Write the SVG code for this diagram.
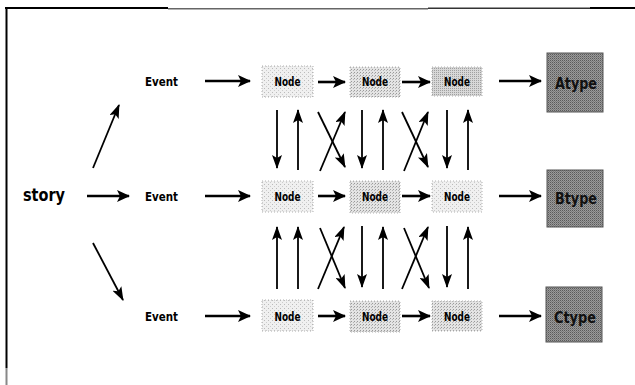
<svg xmlns="http://www.w3.org/2000/svg" width="635" height="385" viewBox="0 0 635 385">
  <style>
    .lbl { font-family: "DejaVu Sans Condensed", "DejaVu Sans", sans-serif; font-weight: bold; fill: #000; }
    .ev { font-size: 13px; }
    .nd { font-size: 12px; }
    .ty { font-size: 16px; fill: #111; }
    .st { font-size: 17px; }
    .node { stroke: #b0b0b0; stroke-width: 1; stroke-dasharray: 1 2; }
    .type { fill: url(#dark); stroke: #555; stroke-width: 1; }
    .h { stroke: #000; stroke-width: 2.6; fill: none; marker-end: url(#hHead); }
    .v { stroke: #000; stroke-width: 1.8; fill: none; marker-end: url(#vHead); }
  </style>
  <defs>
    <marker id="hHead" markerUnits="userSpaceOnUse" markerWidth="14" markerHeight="12" refX="12" refY="6" orient="auto">
      <path d="M0,0 L13,6 L0,12 L3,6 z" fill="#000"/>
    </marker>
    <marker id="vHead" markerUnits="userSpaceOnUse" markerWidth="14" markerHeight="10" refX="13" refY="5" orient="auto">
      <path d="M0,0 L14,5 L0,10 L3,5 z" fill="#000"/>
    </marker>
    <pattern id="lite" width="4" height="4" patternUnits="userSpaceOnUse">
      <rect width="4" height="4" fill="#f0f0f0"/>
      <rect x="0" y="0" width="1" height="1" fill="#bbb"/>
      <rect x="2" y="2" width="1" height="1" fill="#ccc"/>
    </pattern>
    <pattern id="mid" width="3" height="3" patternUnits="userSpaceOnUse">
      <rect width="3" height="3" fill="#e4e4e4"/>
      <rect x="0" y="0" width="1" height="1" fill="#999"/>
      <rect x="2" y="1" width="1" height="1" fill="#b5b5b5"/>
    </pattern>
    <pattern id="deep" width="2" height="2" patternUnits="userSpaceOnUse">
      <rect width="2" height="2" fill="#d8d8d8"/>
      <rect x="0" y="0" width="1" height="1" fill="#a0a0a0"/>
    </pattern>
    <pattern id="dark" width="2" height="2" patternUnits="userSpaceOnUse">
      <rect width="2" height="2" fill="#9a9a9a"/>
      <rect x="0" y="0" width="1" height="1" fill="#5a5a5a"/>
      <rect x="1" y="1" width="1" height="1" fill="#7a7a7a"/>
    </pattern>
  </defs>

  <!-- frame -->
  <g id="frame">
    <rect x="5" y="7" width="163" height="2" fill="#000"/>
    <rect x="168" y="8" width="260" height="1.5" fill="#666"/>
    <rect x="428" y="7.5" width="162" height="1.5" fill="#333"/>
    <rect x="590" y="7" width="45" height="2" fill="#000"/>
    <rect x="5.5" y="7" width="2" height="361" fill="#000"/>
    <rect x="5.5" y="368" width="2" height="17" fill="#888"/>
  </g>

  <!-- source -->
  <g id="story"><text class="lbl st" x="23" y="201" textLength="42" lengthAdjust="spacingAndGlyphs">story</text></g>

  <!-- events -->
  <g id="event-a"><text class="lbl ev" x="145" y="86" textLength="33" lengthAdjust="spacingAndGlyphs">Event</text></g>
  <g id="event-b"><text class="lbl ev" x="145" y="201" textLength="33" lengthAdjust="spacingAndGlyphs">Event</text></g>
  <g id="event-c"><text class="lbl ev" x="145" y="321" textLength="33" lengthAdjust="spacingAndGlyphs">Event</text></g>

  <!-- node grid -->
  <g id="node-a1"><rect class="node" x="262" y="66" width="51" height="31" fill="url(#lite)"/><text class="lbl nd" x="287.5" y="86" text-anchor="middle" textLength="26" lengthAdjust="spacingAndGlyphs">Node</text></g>
  <g id="node-a2"><rect class="node" x="350" y="67" width="50" height="30" fill="url(#mid)"/><text class="lbl nd" x="375" y="86" text-anchor="middle" textLength="26" lengthAdjust="spacingAndGlyphs">Node</text></g>
  <g id="node-a3"><rect class="node" x="432" y="67" width="50" height="29" fill="url(#deep)"/><text class="lbl nd" x="457" y="86" text-anchor="middle" textLength="26" lengthAdjust="spacingAndGlyphs">Node</text></g>

  <g id="node-b1"><rect class="node" x="262" y="181" width="51" height="31" fill="url(#lite)"/><text class="lbl nd" x="287.5" y="201" text-anchor="middle" textLength="26" lengthAdjust="spacingAndGlyphs">Node</text></g>
  <g id="node-b2"><rect class="node" x="350" y="181" width="50" height="32" fill="url(#mid)"/><text class="lbl nd" x="375" y="201" text-anchor="middle" textLength="26" lengthAdjust="spacingAndGlyphs">Node</text></g>
  <g id="node-b3"><rect class="node" x="432" y="181" width="50" height="31" fill="url(#lite)"/><text class="lbl nd" x="457" y="201" text-anchor="middle" textLength="26" lengthAdjust="spacingAndGlyphs">Node</text></g>

  <g id="node-c1"><rect class="node" x="262" y="300" width="51" height="31" fill="url(#lite)"/><text class="lbl nd" x="287.5" y="321" text-anchor="middle" textLength="26" lengthAdjust="spacingAndGlyphs">Node</text></g>
  <g id="node-c2"><rect class="node" x="350" y="301" width="50" height="31" fill="url(#mid)"/><text class="lbl nd" x="375" y="321" text-anchor="middle" textLength="26" lengthAdjust="spacingAndGlyphs">Node</text></g>
  <g id="node-c3"><rect class="node" x="432" y="301" width="50" height="30" fill="url(#mid)"/><text class="lbl nd" x="457" y="321" text-anchor="middle" textLength="26" lengthAdjust="spacingAndGlyphs">Node</text></g>

  <!-- outcome types -->
  <g id="type-a"><rect class="type" x="547" y="53" width="56" height="59"/><text class="lbl ty" x="576" y="89" text-anchor="middle" textLength="42" lengthAdjust="spacingAndGlyphs">Atype</text></g>
  <g id="type-b"><rect class="type" x="547" y="170" width="56" height="57"/><text class="lbl ty" x="576" y="204" text-anchor="middle" textLength="42" lengthAdjust="spacingAndGlyphs">Btype</text></g>
  <g id="type-c"><rect class="type" x="546" y="287" width="56" height="55"/><text class="lbl ty" x="575" y="323" text-anchor="middle" textLength="42" lengthAdjust="spacingAndGlyphs">Ctype</text></g>

  <!-- connectors -->
  <g id="connectors">
    <!-- story fan-out -->
    <line class="h" x1="87" y1="196" x2="129" y2="196"/>
    <line class="v" x1="93" y1="168" x2="119" y2="105"/>
    <line class="v" x1="93" y1="243" x2="123" y2="300"/>

    <!-- row flows -->
    <line class="h" x1="205" y1="81" x2="250" y2="81"/>
    <line class="h" x1="318" y1="82" x2="345" y2="82"/>
    <line class="h" x1="402" y1="82" x2="430" y2="82"/>
    <line class="h" x1="499" y1="81" x2="541" y2="81"/>

    <line class="h" x1="205" y1="196" x2="250" y2="196"/>
    <line class="h" x1="318" y1="196" x2="345" y2="196"/>
    <line class="h" x1="402" y1="196" x2="430" y2="196"/>
    <line class="h" x1="499" y1="196" x2="541" y2="196"/>

    <line class="h" x1="205" y1="316" x2="250" y2="316"/>
    <line class="h" x1="318" y1="316" x2="345" y2="316"/>
    <line class="h" x1="402" y1="316" x2="430" y2="316"/>
    <line class="h" x1="499" y1="316" x2="541" y2="316"/>

    <!-- links between rows A and B -->
    <line class="v" x1="277" y1="110" x2="277" y2="168"/>
    <line class="v" x1="298" y1="170" x2="298" y2="110"/>
    <line class="v" x1="318" y1="112" x2="345" y2="167"/>
    <line class="v" x1="320" y1="171" x2="345" y2="112"/>
    <line class="v" x1="362" y1="110" x2="362" y2="168"/>
    <line class="v" x1="383" y1="170" x2="383" y2="110"/>
    <line class="v" x1="402" y1="112" x2="428" y2="167"/>
    <line class="v" x1="404" y1="171" x2="428" y2="112"/>
    <line class="v" x1="447" y1="110" x2="447" y2="168"/>
    <line class="v" x1="468" y1="170" x2="468" y2="110"/>

    <!-- links between rows B and C -->
    <line class="v" x1="277" y1="289" x2="277" y2="227"/>
    <line class="v" x1="298" y1="289" x2="298" y2="227"/>
    <line class="v" x1="320" y1="228" x2="345" y2="288"/>
    <line class="v" x1="318" y1="289" x2="344" y2="227"/>
    <line class="v" x1="362" y1="226" x2="362" y2="287"/>
    <line class="v" x1="383" y1="289" x2="383" y2="227"/>
    <line class="v" x1="404" y1="228" x2="429" y2="288"/>
    <line class="v" x1="402" y1="289" x2="428" y2="227"/>
    <line class="v" x1="447" y1="226" x2="447" y2="287"/>
    <line class="v" x1="468" y1="289" x2="468" y2="227"/>
  </g>
</svg>
